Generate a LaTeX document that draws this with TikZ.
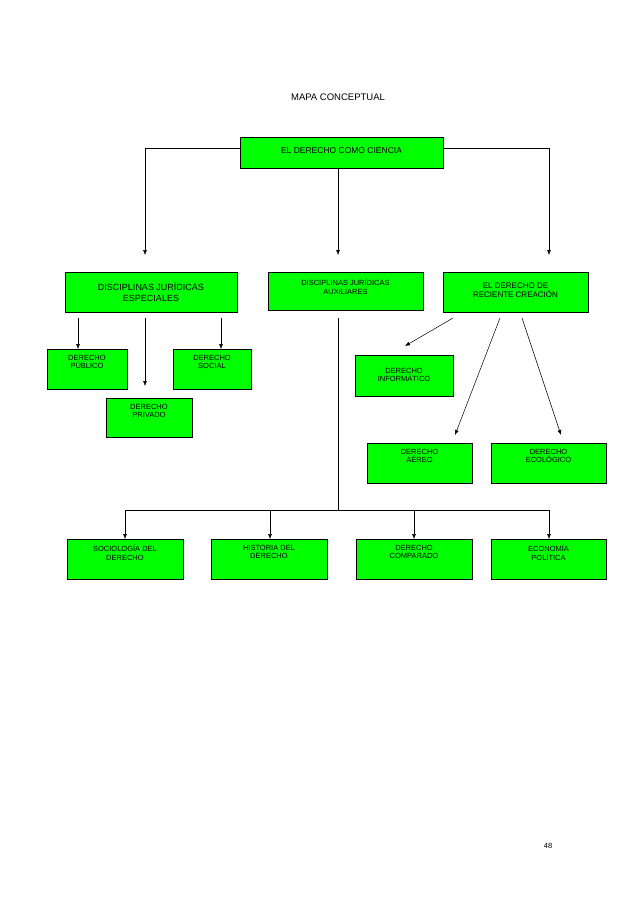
\documentclass[tikz,border=0pt]{standalone}
\usepackage{fontspec}
\setmainfont{Liberation Sans}
\usetikzlibrary{arrows.meta}
\begin{document}
\begin{tikzpicture}[x=1pt,y=-1pt,
  box/.style={draw,fill=green,line width=0.6pt},
  lbl/.style={align=center,font=\fontsize{7.5}{8.5}\selectfont,inner sep=0pt},
  arr/.style={-{Latex[length=5pt,width=4pt]},line width=0.5pt},
  ln/.style={line width=0.5pt}]
\useasboundingbox (0,0) rectangle (638,903);
\node[font=\fontsize{9.5}{11}\selectfont] (title) at (338,97) {MAPA CONCEPTUAL};
\node[font=\fontsize{7.5}{9}\selectfont] (pg) at (548,846) {48};
% boxes
\newcommand{\bx}[7]{\draw[box] (#2,#3) rectangle (#4,#5); \node[lbl,#7] (#1) at ({(#2+#4)/2},{(#3+#5)/2}) {#6};}
\draw[box] (240,137) rectangle (443,168);
\node[lbl,font=\fontsize{8.5}{10}\selectfont] (root) at (341.5,151) {EL DERECHO COMO CIENCIA};
\draw[box] (65,272) rectangle (237,312);
\node[lbl,font=\fontsize{9}{11}\selectfont] (dje) at (151,292) {DISCIPLINAS JURÍDICAS\\ESPECIALES};
\draw[box] (268,272) rectangle (423,310);
\node[lbl,anchor=north] (dja) at (345.5,279) {DISCIPLINAS JURÍDICAS\\AUXILIARES};
\draw[box] (443,272) rectangle (588,312);
\node[lbl,font=\fontsize{8}{9.5}\selectfont] (erc) at (515.5,290) {EL DERECHO DE\\RECIENTE CREACIÓN};
\draw[box] (47,349) rectangle (127,389);
\node[lbl,anchor=north] (pub) at (87,355) {DERECHO\\PÚBLICO};
\draw[box] (173,349) rectangle (251,389);
\node[lbl,anchor=north] (soc) at (212,355) {DERECHO\\SOCIAL};
\draw[box] (106,398) rectangle (192,437);
\node[lbl,anchor=north] (pri) at (149,404) {DERECHO\\PRIVADO};
\draw[box] (355,355) rectangle (453,396);
\node[lbl] (inf) at (404,375) {DERECHO\\INFORMÁTICO};
\draw[box] (367,443) rectangle (472,483);
\node[lbl,anchor=north] (aer) at (419.5,449) {DERECHO\\AÉREO};
\draw[box] (491,443) rectangle (606,483);
\node[lbl,anchor=north] (eco) at (548.5,449) {DERECHO\\ECOLÓGICO};
\draw[box] (67,539) rectangle (183,579);
\node[lbl,anchor=north] (s1) at (125,545) {SOCIOLOGÍA DEL\\DERECHO};
\draw[box] (211,539) rectangle (327,579);
\node[lbl,anchor=north] (s2) at (269,545) {HISTORIA DEL\\DERECHO};
\draw[box] (356,539) rectangle (472,579);
\node[lbl,anchor=north] (s3) at (414,545) {DERECHO\\COMPARADO};
\draw[box] (491,539) rectangle (606,579);
\node[lbl,anchor=north] (s4) at (548.5,545) {ECONOMÍA\\POLÍTICA};
% connectors
\coordinate (a1) at (145,255); \coordinate (a2) at (338,255); \coordinate (a3) at (549,255);
\draw[arr] (240,148) -| (a1);
\draw[arr] (443,148) -| (a3);
\draw[arr] (338,168) -- (a2);
\draw[arr] (78,318) -- (78,349);
\draw[arr] (145,318) -- (145,386);
\draw[arr] (221,318) -- (221,349);
\draw[ln] (338,318) -- (338,510);
\draw[ln] (125,510) -- (549,510);
\foreach \x in {125,270,414,549} \draw[arr] (\x,510) -- (\x,539);
\draw[arr] (453,318) -- (405,346);
\draw[arr] (500,318) -- (455,435);
\draw[arr] (522,318) -- (561,435);
\end{tikzpicture}
\end{document}
